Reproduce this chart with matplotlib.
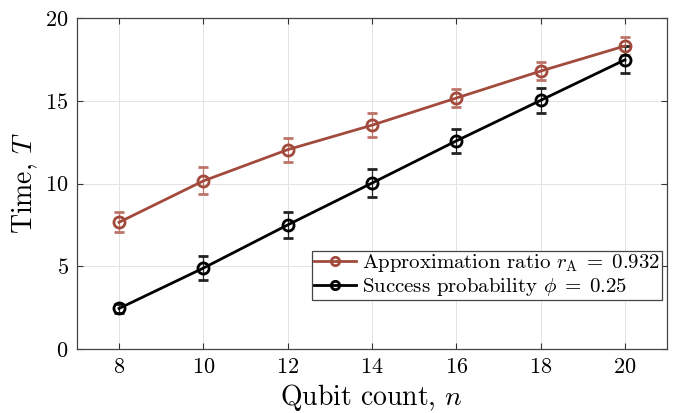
import numpy as np
import matplotlib
matplotlib.use("Agg")
import matplotlib.pyplot as plt
from matplotlib.lines import Line2D

plt.rcParams["font.family"] = "serif"
plt.rcParams["font.serif"] = ["cmr10", "DejaVu Serif"]
plt.rcParams["mathtext.fontset"] = "cm"
plt.rcParams["axes.formatter.use_mathtext"] = True

# ---- data -------------------------------------------------------------------
n = [8, 10, 12, 14, 16, 18, 20]
t_ratio = [7.66, 10.16, 12.05, 13.53, 15.17, 16.8, 18.32]
e_ratio = [0.6, 0.82, 0.73, 0.73, 0.57, 0.55, 0.52]
t_succ = [2.45, 4.89, 7.5, 10.03, 12.58, 15.03, 17.48]
e_succ = [0.28, 0.74, 0.81, 0.86, 0.74, 0.77, 0.81]

RED, BLACK = "#A24A3C", "#000000"
LBL_R = r"Approximation ratio $r_{\rm A}\;=\;0.932$"
LBL_S = r"Success probability $\phi\;=\;0.25$"

fig = plt.figure(figsize=(6.8, 4.13), dpi=100)
ax = fig.add_axes([0.113, 0.155, 0.868, 0.801])

ax.errorbar(n, t_ratio, yerr=e_ratio, fmt="o-", color=RED, ecolor="#BC7468", lw=2, elinewidth=0.9,
            ms=8, mfc="none", mew=2, capsize=3.5, capthick=0.9)
ax.errorbar(n, t_succ, yerr=e_succ, fmt="o-", color=BLACK, ecolor="#222222", lw=2, elinewidth=0.9,
            ms=8, mfc="none", mew=2, capsize=3.5, capthick=0.9)

ax.set_xlim(7, 21); ax.set_ylim(0, 20)
ax.set_xticks(n); ax.set_yticks([0, 5, 10, 15, 20])
ax.tick_params(direction="in", top=True, right=True, labelsize=16, length=4, color="#333333", pad=6)
for s in ax.spines.values():
    s.set_color("#444444"); s.set_linewidth(0.9)
ax.grid(True, color="#e3e3e3", lw=0.7)
ax.set_axisbelow(True)
ax.set_xlabel(r"Qubit count, $n$", fontsize=20, labelpad=4)
ax.set_ylabel(r"Time, $T$", fontsize=20, labelpad=4)

handles = [Line2D([], [], color=RED, lw=2, marker="o", ms=6, mfc="none", mew=2),
           Line2D([], [], color=BLACK, lw=2, marker="o", ms=6, mfc="none", mew=2)]
leg = ax.legend(handles, [LBL_R, LBL_S], loc="lower right", bbox_to_anchor=(0.991, 0.148),
                fontsize=15, frameon=True, fancybox=False, edgecolor="#444444", framealpha=1,
                handlelength=2.0, borderpad=0.08, labelspacing=0.1, handletextpad=0.3, borderaxespad=0)
leg.get_frame().set_linewidth(0.9)

fig.savefig("out.png", dpi=100)
